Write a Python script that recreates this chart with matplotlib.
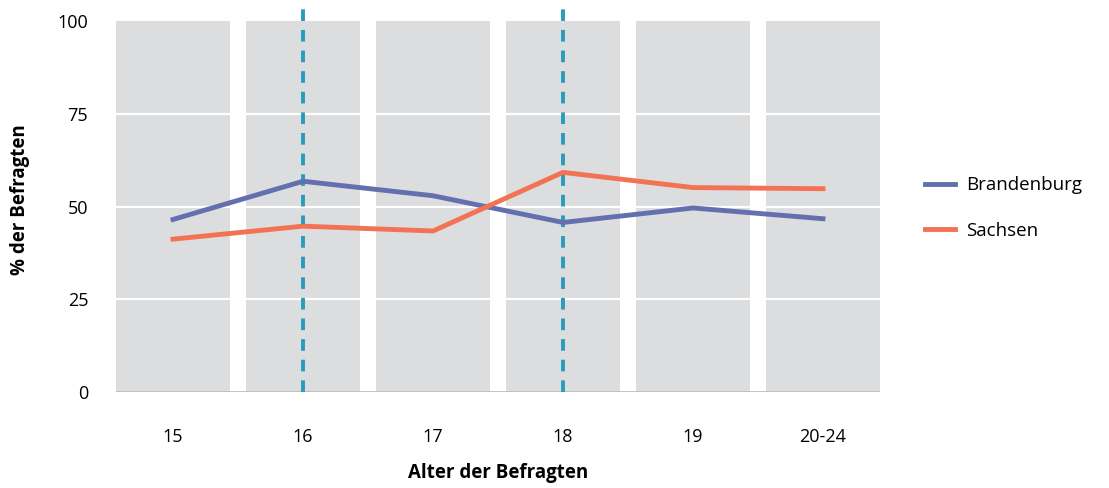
import numpy as np
import matplotlib.pyplot as plt

plt.rcParams['font.family'] = ['Open Sans', 'DejaVu Sans']

ages = ['15', '16', '17', '18', '19', '20-24']
brandenburg = [46.5, 56.8, 52.9, 45.7, 49.6, 46.7]
sachsen = [41.2, 44.7, 43.4, 59.2, 55.1, 54.8]
marked = ['16', '18']
yticks = [0, 25, 50, 75, 100]

x = np.arange(len(ages))

fig = plt.figure(figsize=(11.09, 4.88), dpi=100)
ax = fig.add_axes([116/1109, 1-392/488, (880-116)/1109, (392-7)/488])

# gray columns behind each age group
ax.bar(x, [100]*len(ages), width=114/130, color='#dcdddf', zorder=0)
for yv in yticks[1:-1]:
    ax.axhline(yv, color='white', lw=1.6, zorder=1)
ax.axhline(0, color='#bdbdbd', lw=2, zorder=2)

for a in marked:
    ax.axvline(ages.index(a), color='#2a9bbd', lw=2.8,
               linestyle=(0, (3.0, 2.3)), zorder=3)

ax.plot(x, brandenburg, color='#6470ad', lw=3.5, label='Brandenburg', zorder=4)
ax.plot(x, sachsen, color='#f47254', lw=3.5, label='Sachsen', zorder=4)

ax.set_xlim(-0.5 + 8/130, len(ages) - 0.5 - 8/130)
ax.set_ylim(0, (392-7)/3.71)
ax.set_xticks(x)
ax.set_xticklabels(ages, fontsize=13)
ax.set_yticks(yticks)
ax.set_yticklabels([str(v) for v in yticks], fontsize=13)
ax.tick_params(length=0)
ax.tick_params(axis='x', pad=26)
ax.tick_params(axis='y', pad=20)
for s in ax.spines.values():
    s.set_visible(False)

ax.set_xlabel('Alter der Befragten', fontsize=13.5, fontweight='bold', labelpad=12)
ax.set_ylabel('% der Befragten', fontsize=13.5, fontweight='bold', labelpad=20)

ax.legend(loc='center left', bbox_to_anchor=((925-116)/764, (392-208)/385),
          frameon=False, borderpad=0, borderaxespad=0,
          fontsize=13.5, handlelength=1.6, handletextpad=0.6, labelspacing=1.45)

fig.savefig('out.png', dpi=100)
